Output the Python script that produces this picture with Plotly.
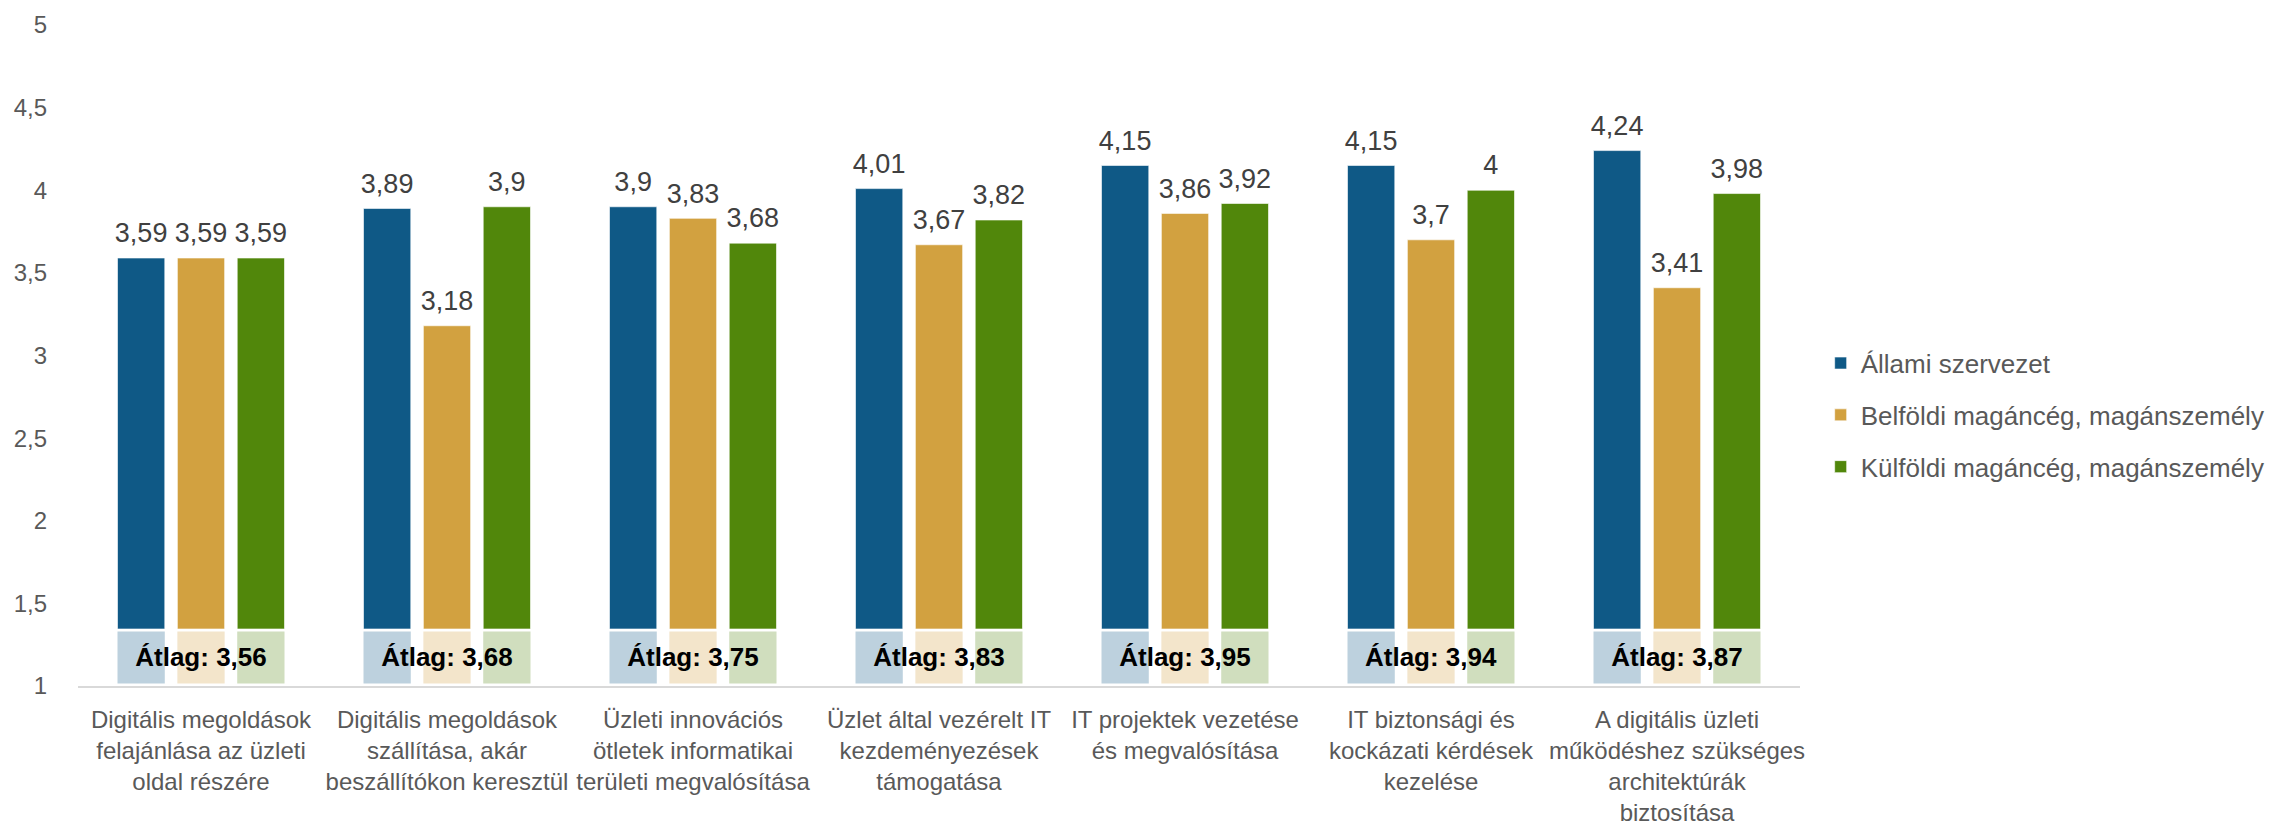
import plotly.graph_objects as go

categories = [
    "Digitális megoldások<br>felajánlása az üzleti<br>oldal részére",
    "Digitális megoldások<br>szállítása, akár<br>beszállítókon keresztül",
    "Üzleti innovációs<br>ötletek informatikai<br>területi megvalósítása",
    "Üzlet által vezérelt IT<br>kezdeményezések<br>támogatása",
    "IT projektek vezetése<br>és megvalósítása",
    "IT biztonsági és<br>kockázati kérdések<br>kezelése",
    "A digitális üzleti<br>működéshez szükséges<br>architektúrák<br>biztosítása",
]
allami = [3.59, 3.89, 3.9, 4.01, 4.15, 4.15, 4.24]
belfoldi = [3.59, 3.18, 3.83, 3.67, 3.86, 3.7, 3.41]
kulfoldi = [3.59, 3.9, 3.68, 3.82, 3.92, 4, 3.98]
atlag = [3.56, 3.68, 3.75, 3.83, 3.95, 3.94, 3.87]

series = [
    ("Állami szervezet", allami, "#0F5986", "#BDD1DE"),
    ("Belföldi magáncég, magánszemély", belfoldi, "#D2A140", "#F3E5CB"),
    ("Külföldi magáncég, magánszemély", kulfoldi, "#51870B", "#D0DEBE"),
]

FONT = "Liberation Sans, Arial, sans-serif"

# the coloured bars start above the pale "Átlag" band
bar_base = 1.345
band_lo, band_hi = 1.015, 1.33
y_range = [1, 5]
label_lift = 0.055  # value labels sit a little higher than the bar tops


def fmt(v):
    return f"{v:g}".replace(".", ",")


fig = go.Figure()

for i, (name, vals, col, _) in enumerate(series):
    fig.add_trace(go.Bar(
        name=name,
        legendgroup=name,
        x=categories,
        y=[v - bar_base for v in vals],
        base=bar_base,
        offsetgroup=str(i),
        marker=dict(color=col, line=dict(color="rgba(255,255,255,0.6)", width=1)),
        hoverinfo="skip",
    ))

# pale band, middle one last so its label sits on top
for i in [0, 2, 1]:
    name, vals, col, light = series[i]
    fig.add_trace(go.Bar(
        x=categories,
        y=[band_hi - band_lo] * len(categories),
        base=band_lo,
        offsetgroup=str(i),
        marker=dict(color=light, line=dict(width=0)),
        text=[f"<b>Átlag: {fmt(a)}</b>" for a in atlag] if i == 1 else None,
        textposition="inside" if i == 1 else "none",
        insidetextanchor="middle",
        constraintext="none",
        textangle=0,
        insidetextfont=dict(family=FONT, size=26, color="#000000"),
        showlegend=False,
        hoverinfo="skip",
    ))

# value labels above the bars (on a slightly shifted overlay axis)
for i, (name, vals, col, _) in enumerate(series):
    fig.add_trace(go.Scatter(
        x=categories,
        y=vals,
        yaxis="y2",
        mode="text",
        offsetgroup=str(i),
        text=[fmt(v) for v in vals],
        textposition="top center",
        textfont=dict(family=FONT, size=27, color="#404040"),
        cliponaxis=False,
        showlegend=False,
        hoverinfo="skip",
    ))

fig.update_layout(
    width=2269,
    height=820,
    barmode="group",
    scattermode="group",
    bargap=0.27,
    bargroupgap=0.21,
    scattergap=0.27,
    separators=", ",
    paper_bgcolor="white",
    plot_bgcolor="white",
    font=dict(family=FONT, color="#595959"),
    margin=dict(l=70, r=477, t=17, b=142, autoexpand=False),
    legend=dict(
        x=1.012, xanchor="left",
        y=0.524, yanchor="top",
        font=dict(family=FONT, size=26, color="#595959"),
        tracegroupgap=15,
    ),
    yaxis2=dict(
        overlaying="y",
        range=[y_range[0] - label_lift, y_range[1] - label_lift],
        visible=False,
    ),
)

fig.update_yaxes(
    range=y_range,
    dtick=0.5,
    showgrid=False,
    zeroline=False,
    showline=False,
    tickfont=dict(family=FONT, size=24, color="#595959"),
    ticklabelstandoff=30,
    selector=dict(overlaying=None),
)
fig.update_xaxes(
    showgrid=False,
    showline=True,
    linecolor="#D9D9D9",
    linewidth=2,
    tickangle=0,
    tickfont=dict(family=FONT, size=24, color="#595959"),
    ticklabelstandoff=11,
)

fig.write_html("out.html")
